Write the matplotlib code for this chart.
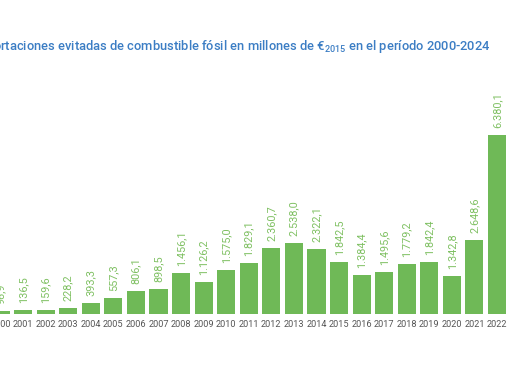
import matplotlib
matplotlib.use("Agg")
import matplotlib.pyplot as plt
import numpy as np

years = [str(y) for y in range(2000, 2023)]
values = [98.9, 136.5, 159.6, 228.2, 393.3, 557.3, 806.1, 898.5, 1456.1, 1126.2,
          1575.0, 1829.1, 2360.7, 2538.0, 2322.1, 1842.5, 1384.4, 1495.6, 1779.2,
          1842.4, 1342.8, 2648.6, 6380.1]

BAR = "#6fb957"
LABEL = "#7fc062"
TITLE = "#3b7dc4"


def fmt(v):
    s = f"{v:,.1f}"
    return s.replace(",", "X").replace(".", ",").replace("X", ".")


plt.rcParams["font.family"] = ["Roboto", "DejaVu Sans"]

W, H = 510, 382
fig = plt.figure(figsize=(W / 100, H / 100), dpi=100)
base = 314
ax = fig.add_axes([0, (H - base) / H, 1, base / H])

x = np.arange(len(years))
ax.bar(x, values, width=0.8, color=BAR)
for xi, v in zip(x, values):
    ax.annotate(fmt(v), (xi, v), xytext=(0, 5), textcoords="offset points",
                rotation=90, ha="center", va="bottom", fontsize=7.8, color=LABEL)

period = 22.57
ax.set_xlim(-0.5 / period, (W - 0.5) / period)
ax.set_ylim(0, base / 179 * 6380.1)
ax.set_xticks(x)
ax.set_xticklabels(years, fontsize=6.6, color="#555555")
ax.tick_params(axis="x", length=0, pad=4)
ax.set_yticks([])
for sp in ax.spines.values():
    sp.set_visible(False)
ax.patch.set_alpha(0)

fig.text(491 / W, 1 - 50 / H,
         r"Importaciones evitadas de combustible fósil en millones de €$\mathregular{_{2015}}$ en el período 2000-2024",
         ha="right", va="baseline", fontsize=9.25, color=TITLE, weight="medium")

fig.savefig("out.png", dpi=100)
